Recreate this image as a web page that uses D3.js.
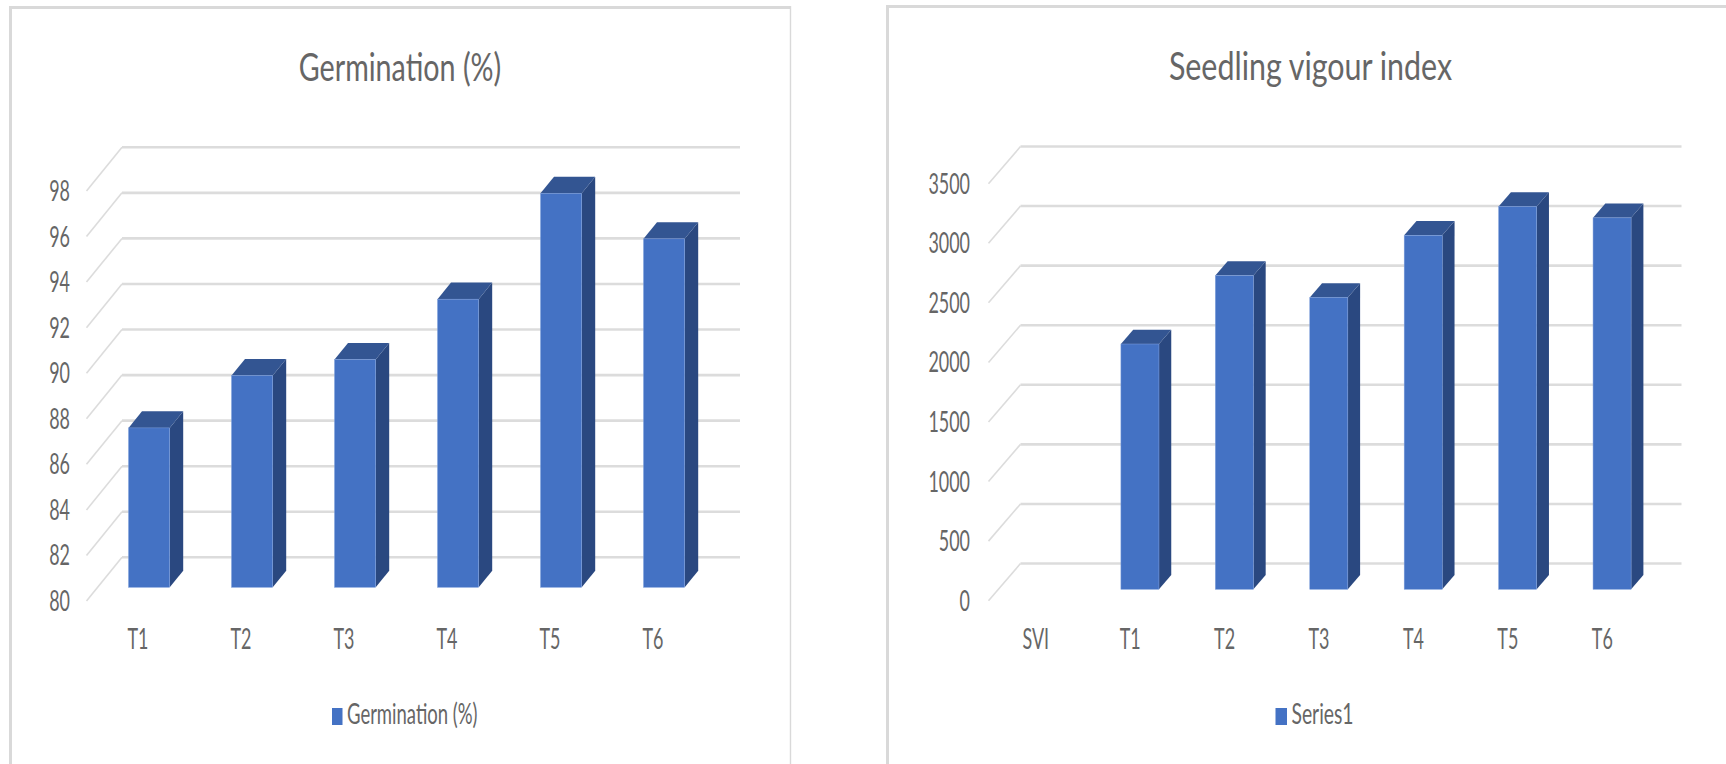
<!DOCTYPE html>
<html>
<head>
<meta charset="utf-8">
<title>Germination and seedling vigour</title>
<script src="https://cdn.jsdelivr.net/npm/d3@7"></script>
<style>
  html, body { margin: 0; padding: 0; background: #fff; }
  svg { display: block; }
  text { font-family: Lato, "Open Sans", sans-serif; fill: #666666; }
</style>
</head>
<body>
<svg id="figure" width="1726" height="764"></svg>
<script>
// Germination panel
const germCategories = ["T1", "T2", "T3", "T4", "T5", "T6"];
const germValues = [87.0, 89.3, 90.0, 92.65, 97.3, 95.3];
const germTicks = [80, 82, 84, 86, 88, 90, 92, 94, 96, 98];

// Seedling vigour panel
const sviCategories = ["SVI", "T1", "T2", "T3", "T4", "T5", "T6"];
const sviValues = [null, 2059, 2633, 2450, 2971, 3213, 3118];
const sviTicks = [0, 500, 1000, 1500, 2000, 2500, 3000, 3500];

const FRONT = "#4472C4", TOP = "#335592", SIDE = "#2A4880", EDGE = "#7f9fdb";
const GRID = "#dcdcdc", FRAME = "#d9d9d9";
const NARROW = 0.64;

const svg = d3.select("#figure");

// Compress a text selection horizontally, keeping its natural glyph shapes.
function squeeze(sel, factor) {
  sel.each(function () {
    const len = this.getComputedTextLength();
    d3.select(this).attr("textLength", len * factor).attr("lengthAdjust", "spacingAndGlyphs");
  });
}

// Draws one pseudo-3D column panel: a floor-less box whose gridlines recede
// from the front axis plane, with columns standing midway through its depth.
function drawPanel(p) {
  const g = svg.append("g");
  const x = d3.scaleBand().domain(p.categories).range(p.xRange);
  const y = d3.scaleLinear().domain(p.domain).range(p.yRange);

  // Receding gridlines
  const grid = g.append("g");
  p.ticks.forEach(t => {
    const path = d3.path();
    path.moveTo(p.xRange[0], y(t));
    path.lineTo(p.xRange[0] + p.dx, y(t) - p.dy);
    grid.append("path").attr("d", path).attr("fill", "none")
      .attr("stroke", GRID).attr("stroke-width", 1.6);
    const flat = d3.path();
    flat.moveTo(p.xRange[0] + p.dx, y(t) - p.dy);
    flat.lineTo(p.xRange[1] + p.dx, y(t) - p.dy);
    grid.append("path").attr("d", flat).attr("fill", "none")
      .attr("stroke", GRID).attr("stroke-width", 2.6);
  });

  // Columns
  const near = p.depth[0], far = p.depth[1];
  const ox = near * p.dx, oy = near * p.dy;
  const sx = (far - near) * p.dx, sy = (far - near) * p.dy;
  const barW = x.bandwidth() * p.barShare;
  const series = p.categories.map((c, i) => ({ c, v: p.values[i] })).filter(d => d.v != null);
  const bars = g.selectAll("g.bar").data(series).join("g").attr("class", "bar");
  const left = d => x(d.c) + x.bandwidth() / 2 + ox - barW / 2;
  const topY = d => y(d.v) - oy;
  const baseY = y(p.domain[0]) - oy;

  bars.append("path").attr("fill", SIDE).attr("d", d => {
    const a = d3.path(), r = left(d) + barW;
    a.moveTo(r, topY(d)); a.lineTo(r + sx, topY(d) - sy);
    a.lineTo(r + sx, baseY - sy); a.lineTo(r, baseY); a.closePath();
    return a;
  });
  bars.append("path").attr("fill", TOP).attr("d", d => {
    const a = d3.path(), l = left(d);
    a.moveTo(l, topY(d)); a.lineTo(l + barW, topY(d));
    a.lineTo(l + barW + sx, topY(d) - sy); a.lineTo(l + sx, topY(d) - sy); a.closePath();
    return a;
  });
  bars.append("rect").attr("fill", FRONT)
    .attr("stroke", EDGE).attr("stroke-width", 0.5)
    .attr("x", left).attr("y", topY)
    .attr("width", barW).attr("height", d => baseY - topY(d));

  // Value axis along the front edge
  const yAxis = g.append("g")
    .attr("transform", `translate(${p.xRange[0] - p.labelGap},0)`)
    .call(d3.axisLeft(y).tickValues(p.ticks).tickFormat(d3.format("d")).tickSize(0).tickPadding(0));
  yAxis.select(".domain").remove();
  yAxis.selectAll("text").attr("font-size", 28).style("font-family", "Lato").attr("dy", "0.34em");
  squeeze(yAxis.selectAll("text"), NARROW);

  // Category axis below the plot
  const xAxis = g.append("g")
    .attr("transform", `translate(0,${p.xLabelY})`)
    .call(d3.axisBottom(x).tickSize(0).tickPadding(0));
  xAxis.select(".domain").remove();
  xAxis.selectAll("text").attr("font-size", 28).style("font-family", "Lato").attr("dy", 0);
  squeeze(xAxis.selectAll("text"), NARROW);

  // Title
  const title = g.append("text").attr("x", p.titleX).attr("y", p.titleY)
    .attr("text-anchor", "middle").attr("font-size", 39).text(p.title);
  squeeze(title, p.titleSqueeze);

  // Legend
  g.append("rect").attr("x", p.legendX).attr("y", 708)
    .attr("width", p.swatch).attr("height", 17).attr("fill", FRONT);
  const legend = g.append("text").attr("x", p.legendX + p.swatch + 4.5).attr("y", 724)
    .attr("font-size", 28).text(p.legend);
  squeeze(legend, p.legendSqueeze);
}

drawPanel({
  categories: germCategories, values: germValues, ticks: germTicks,
  domain: [80, 98], yRange: [601, 191], xRange: [86.5, 704.5],
  dx: 35.5, dy: 43.7, depth: [0.313, 0.693], barShare: 0.4,
  labelGap: 16.5, xLabelY: 649,
  title: "Germination (%)", titleX: 400, titleY: 80.5, titleSqueeze: 0.735,
  legend: "Germination (%)", legendX: 332, swatch: 10.5, legendSqueeze: 0.66
});

drawPanel({
  categories: sviCategories, values: sviValues, ticks: sviTicks,
  domain: [0, 3500], yRange: [600.7, 183.7], xRange: [988.5, 1649.5],
  dx: 32, dy: 37.2, depth: [0.306, 0.69], barShare: 0.403,
  labelGap: 18.5, xLabelY: 649,
  title: "Seedling vigour index", titleX: 1310.5, titleY: 80, titleSqueeze: 0.78,
  legend: "Series1", legendX: 1275.5, swatch: 11.5, legendSqueeze: 0.69
});

// Chart area frames, open where they run off the page
const heavy = d3.path();
heavy.moveTo(10.5, 764); heavy.lineTo(10.5, 7.5); heavy.lineTo(790, 7.5);
heavy.moveTo(887.5, 764); heavy.lineTo(887.5, 6.5); heavy.lineTo(1726, 6.5);
svg.append("path").attr("d", heavy).attr("fill", "none")
  .attr("stroke", FRAME).attr("stroke-width", 3);
const light = d3.path();
light.moveTo(790.5, 6); light.lineTo(790.5, 764);
svg.append("path").attr("d", light).attr("fill", "none")
  .attr("stroke", FRAME).attr("stroke-width", 1.4);
</script>
</body>
</html>
